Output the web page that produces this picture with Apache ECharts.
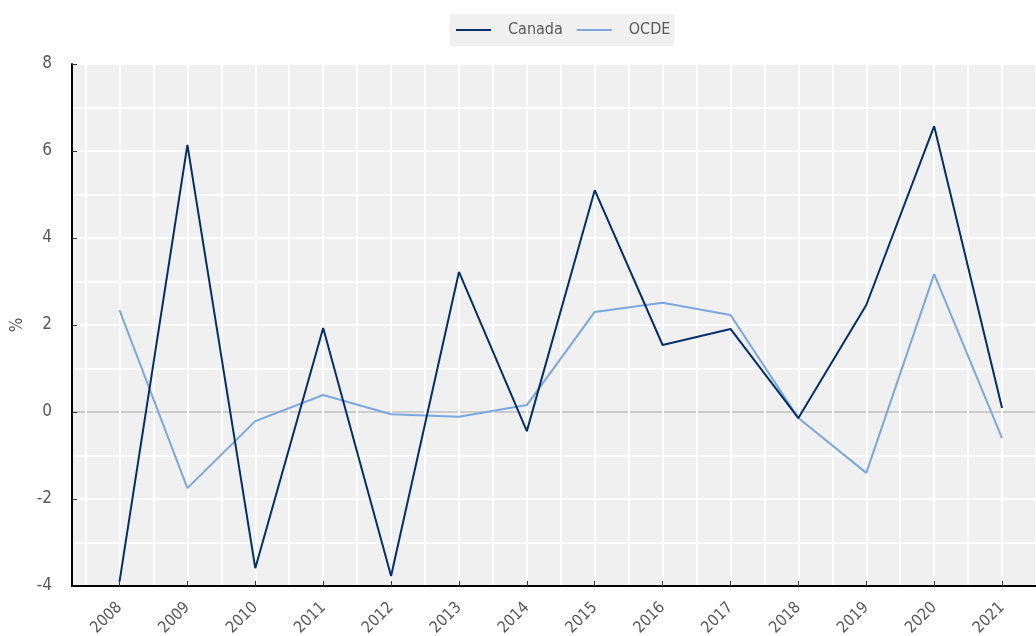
<!DOCTYPE html>
<html lang="fr">
<head>
    <meta charset="UTF-8">
    <title>Canada vs OCDE</title>
    <script src="https://cdn.jsdelivr.net/npm/echarts@6/dist/echarts.min.js"></script>
    <style>
        html, body { margin: 0; padding: 0; background: #fff; }
        #chart { width: 1036px; height: 636px; }
    </style>
</head>
<body>
<div id="chart"></div>
<script>
    var years = [2008, 2009, 2010, 2011, 2012, 2013, 2014, 2015, 2016, 2017, 2018, 2019, 2020, 2021];
    var canada = [-3.9, 6.14, -3.59, 1.93, -3.77, 3.22, -0.44, 5.1, 1.54, 1.91, -0.14, 2.46, 6.57, 0.09];
    var ocde = [2.34, -1.75, -0.21, 0.39, -0.05, -0.11, 0.16, 2.3, 2.51, 2.23, -0.14, -1.4, 3.17, -0.6];

    var font = '"DejaVu Sans Condensed", "Roboto", sans-serif';
    var txt = '#595959';

    function pairs(vals) {
        return years.map(function (y, i) { return [y, vals[i]]; });
    }

    // vertical grid lines sit on every year and half-way between
    var halfYears = [];
    years.forEach(function (y) { halfYears.push(y - 0.5, y); });
    halfYears.push(years[years.length - 1] + 0.5);

    var chart = echarts.init(document.getElementById('chart'));
    chart.setOption({
        animation: false,
        textStyle: { fontFamily: font },
        legend: {
            top: 14,
            left: 450,
            backgroundColor: '#f0f0f0',
            padding: [8, 4, 8, 6],
            itemWidth: 35,
            itemHeight: 2,
            itemGap: 14,
            icon: 'rect',
            textStyle: { color: txt, fontSize: 16, fontFamily: font, padding: [0, 0, 0, 12] },
            data: ['Canada', 'OCDE']
        },
        grid: {
            left: 72, right: 0, top: 64, bottom: 50,
            outerBoundsMode: 'none', containLabel: false,
            backgroundColor: '#f0f0f0', show: true, borderWidth: 0
        },
        xAxis: [{
            type: 'value',
            min: 2007.3,
            max: 2021.5,
            axisLine: { show: true, onZero: false, lineStyle: { color: '#000', width: 2 } },
            axisTick: { show: true, inside: true, length: 5, customValues: years, lineStyle: { color: '#333' } },
            axisLabel: {
                customValues: years,
                rotate: 45,
                color: txt,
                fontSize: 16,
                fontFamily: font,
                margin: 19,
                formatter: function (v) { return String(v); }
            },
            splitLine: { show: false },
            z: 5
        }, {
            type: 'value',
            min: 2007.3,
            max: 2021.5,
            position: 'bottom',
            axisLine: { show: false },
            axisTick: { show: false, customValues: halfYears },
            axisLabel: { show: false, customValues: halfYears },
            splitLine: { show: true, lineStyle: { color: '#fff', width: 2 } }
        }],
        yAxis: {
            type: 'value',
            min: -4,
            max: 8,
            interval: 2,
            name: '%',
            nameLocation: 'middle',
            nameGap: 45,
            nameRotate: 90,
            nameTextStyle: { color: txt, fontSize: 17, fontFamily: font },
            axisLine: { show: true, lineStyle: { color: '#000', width: 2 } },
            axisTick: { show: true, inside: true, length: 5, lineStyle: { color: '#333' } },
            axisLabel: { color: txt, fontSize: 17, fontFamily: font, margin: 20 },
            splitLine: { show: true, lineStyle: { color: ['#fff', '#fff', '#cccccc', '#fff', '#fff', '#fff', '#fff'], width: 2 } },
            minorTick: { show: false, splitNumber: 2 },
            minorSplitLine: { show: true, lineStyle: { color: '#fff', width: 2 } }
        },
        series: [
            {
                name: 'Canada',
                type: 'line',
                data: pairs(canada),
                symbol: 'none',
                lineStyle: { color: '#002f6c', width: 2 },
                itemStyle: { color: '#002f6c' },
                z: 3
            },
            {
                name: 'OCDE',
                type: 'line',
                data: pairs(ocde),
                symbol: 'none',
                lineStyle: { color: '#7ba7de', width: 2 },
                itemStyle: { color: '#7ba7de' },
                z: 2
            }
        ]
    });
</script>
</body>
</html>
